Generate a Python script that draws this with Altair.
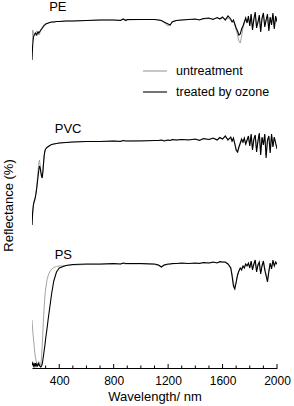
import altair as alt
import pandas as pd

# Wavelength grid (nm) shared by all spectra
WAVELENGTH = [200, 205, 210, 215, 220, 225, 230, 235, 240, 245, 250, 255, 260, 265, 270, 275, 280, 285, 290, 295, 300,
              310, 320, 330, 345, 360, 380, 400, 450, 500, 600, 700, 800, 850, 870, 890, 900, 1000, 1100,
              1130, 1150, 1170, 1200, 1215, 1230, 1260, 1300, 1350, 1400, 1430, 1460, 1500, 1530, 1560, 1580, 1600,
              1620, 1640, 1660, 1670, 1680, 1690, 1700, 1710, 1720, 1730, 1740, 1750, 1760, 1770, 1780,
              1790, 1800, 1810, 1820, 1830, 1840, 1850, 1860, 1870, 1880, 1890, 1900, 1910, 1920, 1930, 1940,
              1950, 1960, 1970, 1980, 1990, 2000]

# Reflectance (stacked, arbitrary offset units)
PE_TREATED = [340, 355, 362, 365, 366, 367, 366, 365, 367, 368, 367, 368, 369, 370, 371, 372, 373, 374, 375, 375, 376,
              376.5, 377, 377.5, 378, 378, 378.5, 378.5, 379, 379, 379.5, 380, 380, 379.5, 381, 379.5, 380.5, 380.5, 380.5,
              380, 379.5, 378, 376, 375, 378, 379.5, 380, 380.5, 381, 380, 381.5, 382, 380.5, 382.5, 381, 383,
              380, 384, 381, 378, 380, 376, 372, 369, 365, 366, 371, 374, 378, 382, 377,
              384, 374, 386, 370, 381, 388, 372, 378, 385, 368, 382, 387, 373, 380, 386, 369, 383, 375, 387, 371, 384, 378]
PE_UNTREATED = [358, 370, 368, 366, 364, 365, 367, 369, 369, 367, 365, 366, 368, 370, 371, 371, 372, 373, 374, 375, 375.5,
                376.5, 377, 377.5, 378, 378, 378.5, 378.5, 379, 379, 379.5, 380, 380, 380, 380.5, 380, 380, 380.5, 380.5,
                380, 379.5, 377.5, 374, 375, 378.5, 379.5, 380, 380.5, 380.5, 380.5, 381, 381.5, 381, 382, 381.5, 382,
                381, 382, 380, 378, 379, 375, 370, 365, 359, 357, 364, 372, 377, 381, 378,
                382, 376, 385, 372, 380, 386, 374, 377, 383, 370, 381, 385, 375, 379, 384, 371, 382, 377, 385, 373, 383, 379]

PVC_TREATED = [175, 188, 195, 198, 200, 203, 207, 212, 218, 224, 230, 234, 232, 228, 224, 222, 228, 237, 245, 249, 251,
               252.5, 253.5, 254.5, 255.5, 256, 256.5, 257, 257.5, 258, 258.5, 258.5, 259, 258.5, 259.5, 259, 259, 259, 259.5,
               259.5, 260, 259, 260, 259.5, 260.5, 260, 260.5, 260, 261, 259.5, 261.5, 260.5, 262, 260, 262.5, 261,
               264, 260, 263, 259, 262, 256, 250, 248, 253, 257, 261, 258, 262, 256, 260,
               264, 254, 266, 250, 261, 265, 248, 259, 267, 245, 263, 255, 266, 242, 260, 264, 247, 266, 253, 263, 257, 251]
PVC_UNTREATED = [175, 187, 194, 198, 201, 204, 208, 214, 222, 230, 237, 240, 235, 227, 224, 224, 230, 238, 245, 249, 251,
                 252, 253, 254.5, 255.5, 256, 256.5, 257, 257.5, 258, 258.5, 258.5, 259, 259, 259.5, 259, 259, 259.5, 259.5,
                 259.5, 260, 259.5, 260, 259.5, 260, 260, 260.5, 260.5, 260.5, 260, 261, 260.5, 261.5, 260.5, 262, 261,
                 263, 261, 262, 258, 261, 257, 251, 247, 252, 256, 260, 257, 261, 255, 259,
                 262, 256, 265, 252, 260, 264, 250, 258, 266, 248, 262, 256, 265, 245, 259, 263, 249, 265, 254, 262, 256, 252]

PS_TREATED = [35, 37, 34, 36, 34, 37, 34, 36, 34, 35, 37, 34, 34, 33, 34, 36, 40, 45, 50, 55, 61,
              71, 82, 92, 107, 119, 128, 132, 134.5, 135.5, 136, 136, 136.5, 136, 137, 136.5, 136.5, 136.5, 136,
              135, 133, 135, 136, 136, 136.5, 136.5, 137, 136.5, 137, 136.5, 137.5, 137, 138, 137, 138.5, 138,
              138, 136, 132, 124, 114, 111, 118, 125, 129, 132, 130, 134, 132, 136, 134,
              137, 132, 139, 130, 136, 140, 128, 135, 138, 126, 134, 139, 130, 124, 118, 128, 137, 131, 140, 134, 138, 136]
PS_UNTREATED = [80, 70, 62, 55, 48, 43, 39, 37, 36, 37, 36, 35, 35, 36, 42, 55, 68, 82, 94, 104, 111,
                120, 125, 128, 131, 132.5, 133.5, 134, 134.5, 135, 135.5, 135.5, 136, 136, 136.5, 136, 136, 136, 135.5,
                134.5, 133, 134.5, 135.5, 136, 136, 136.5, 136.5, 136.5, 136.5, 137, 137, 137, 137.5, 137.5, 137.5, 137.5,
                137.5, 136, 133, 126, 117, 113, 117, 124, 129, 132, 132, 133, 134, 135, 135,
                136, 133, 138, 132, 135, 139, 130, 134, 137, 128, 135, 138, 132, 126, 121, 130, 136, 133, 138, 135, 137, 135]

SAMPLES = ["PE", "PVC", "PS"]
LABEL_WAVELENGTH = [390, 465, 430]
LABEL_VALUE = [393, 271, 145]
TICKS_MAJOR = [400, 800, 1200, 1600, 2000]
TICKS_MINOR = [300, 500, 600, 700, 900, 1000, 1100, 1300, 1400, 1500, 1700, 1800, 1900]
LEGEND_TEXT = ["untreatment", "treated by ozone"]

W, H = 245, 368
FONT = "Liberation Sans"
GREY = "#9a9a9a"

rows = []
for name, treated, untreated in [("PE", PE_TREATED, PE_UNTREATED),
                                 ("PVC", PVC_TREATED, PVC_UNTREATED),
                                 ("PS", PS_TREATED, PS_UNTREATED)]:
    for w, t, u in zip(WAVELENGTH, treated, untreated):
        rows.append({"wavelength": w, "value": u, "sample": name, "series": "untreatment"})
        rows.append({"wavelength": w, "value": t, "sample": name, "series": "treated by ozone"})
df = pd.DataFrame(rows)

xscale = alt.Scale(domain=[200, 2000], nice=False, zero=False)
yscale = alt.Scale(domain=[32, 400], nice=False, zero=False)

xenc = alt.X("wavelength:Q", scale=xscale,
             axis=alt.Axis(values=TICKS_MAJOR, format="d", title="Wavelength/ nm", ticks=False, grid=False,
                           domainColor="black", domainWidth=1, labelFontSize=12, labelColor="black",
                           labelFont=FONT, labelPadding=7, titleFont=FONT, titleFontSize=13,
                           titleFontWeight="normal", titleColor="black", titlePadding=4, labelFlush=False))
yenc = alt.Y("value:Q", scale=yscale,
             axis=alt.Axis(title="Reflectance (%)", labels=False, ticks=False, domain=False, grid=False,
                           titleFont=FONT, titleFontSize=13, titleFontWeight="normal", titleColor="black",
                           titleX=-17, titleY=205))
x2 = alt.X("wavelength:Q", scale=xscale)
y2 = alt.Y("value:Q", scale=yscale)

grey = alt.Chart(df).transform_filter(alt.datum.series == "untreatment").mark_line(
    color=GREY, strokeWidth=0.9, clip=True).encode(x=xenc, y=yenc, detail="sample:N", order="wavelength:Q")
black = alt.Chart(df).transform_filter(alt.datum.series == "treated by ozone").mark_line(
    color="black", strokeWidth=1.1, clip=True).encode(x=x2, y=y2, detail="sample:N", order="wavelength:Q")

labels_df = pd.DataFrame({"wavelength": LABEL_WAVELENGTH, "value": LABEL_VALUE, "text": SAMPLES})
labels = alt.Chart(labels_df).mark_text(font=FONT, fontSize=13, color="black", align="center",
                                        baseline="middle").encode(x=x2, y=y2, text="text:N")

ticks_df = pd.DataFrame({"wavelength": TICKS_MAJOR + TICKS_MINOR,
                         "major": [1] * len(TICKS_MAJOR) + [0] * len(TICKS_MINOR)})
ticks_major = alt.Chart(ticks_df).transform_filter(alt.datum.major == 1).mark_rule(
    color="black", strokeWidth=1).encode(x=x2, y=alt.value(H), y2=alt.value(H - 4))
ticks_minor = alt.Chart(ticks_df).transform_filter(alt.datum.major == 0).mark_rule(
    color="black", strokeWidth=1).encode(x=x2, y=alt.value(H), y2=alt.value(H - 2.5))

leg_df = pd.DataFrame({"text": LEGEND_TEXT})
legend_layers = []
for i, (txt, col, ypos) in enumerate(zip(LEGEND_TEXT, [GREY, "black"], [71, 92])):
    src = alt.Chart(leg_df).transform_filter(alt.datum.text == txt)
    legend_layers.append(src.mark_rule(color=col, strokeWidth=1.1).encode(
        x=alt.value(111), x2=alt.value(135), y=alt.value(ypos)))
    legend_layers.append(src.mark_text(font=FONT, fontSize=12.5, align="left", baseline="middle",
                                       color="black").encode(x=alt.value(144), y=alt.value(ypos), text="text:N"))

chart = alt.layer(grey, black, labels, ticks_major, ticks_minor, *legend_layers).properties(
    width=W, height=H, autosize=alt.AutoSizeParams(type="none"),
    padding={"left": 32, "top": 0, "right": 17, "bottom": 38},
    background="white"
).configure_view(stroke=None)

chart.save("out.html", embed_options={"renderer": "svg", "actions": False})
